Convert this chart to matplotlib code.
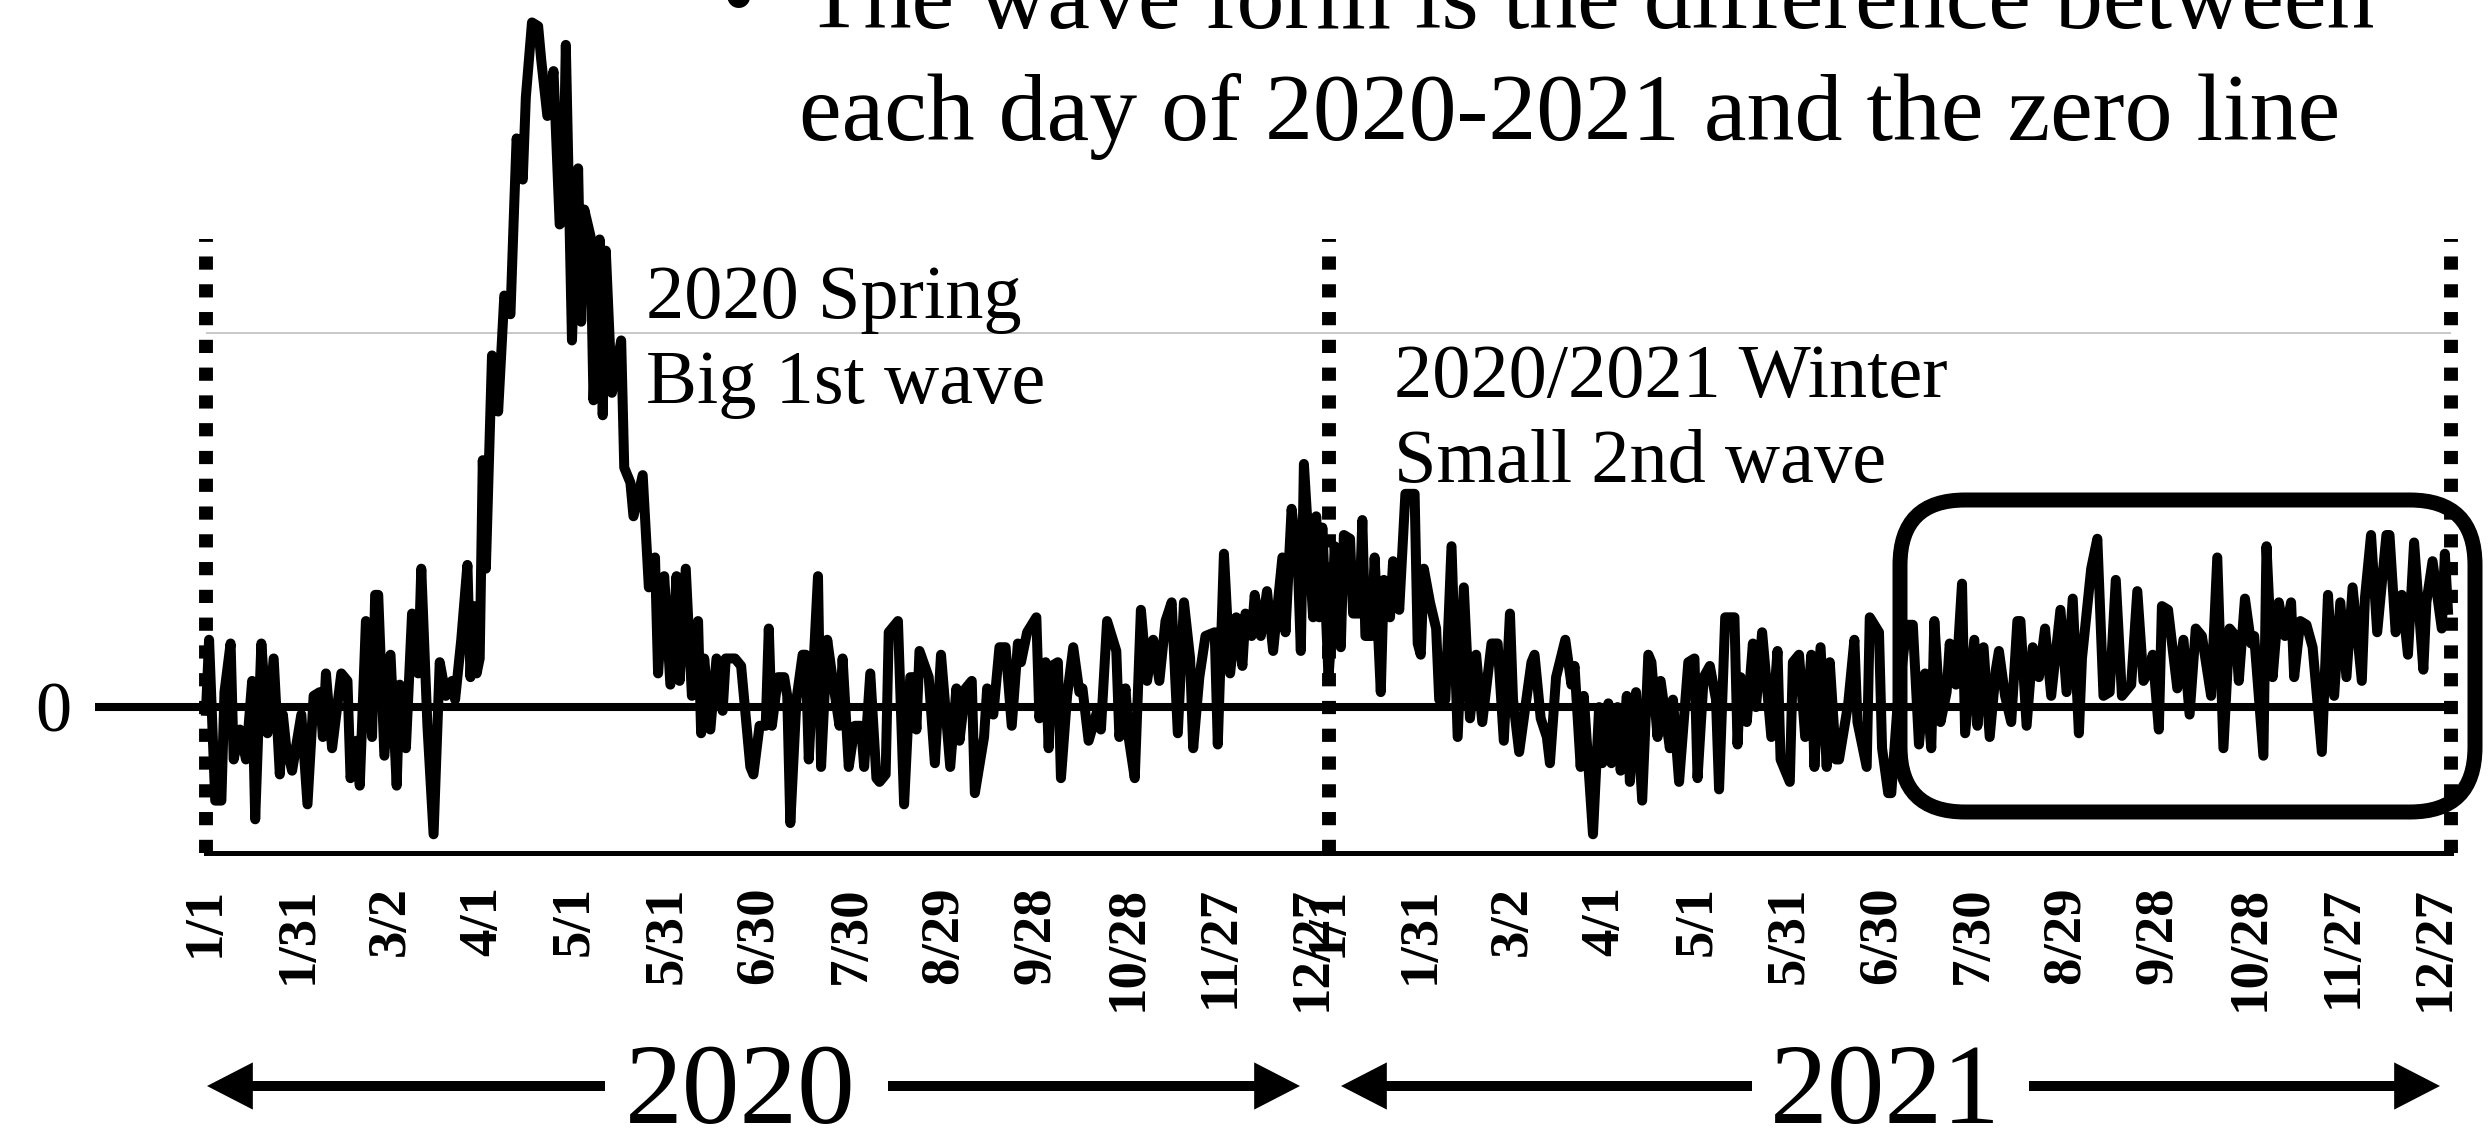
import matplotlib
matplotlib.use("Agg")
import matplotlib.pyplot as plt
from matplotlib.patches import FancyBboxPatch

# ---------------- data ----------------
# day index since 1/1/2020 (365-day years) and the wave value (gridline = 1)
days = [
    0, 1, 3, 5, 6, 8, 9, 11, 13, 15, 16, 18, 20, 22, 24, 25, 26, 28, 31, 33,
    35, 37, 38, 39, 41, 44, 46, 47, 49, 50, 52, 54, 55, 56, 58, 60, 62, 63, 65, 67,
    69, 70, 72, 74, 76, 78, 80, 81, 83, 85, 86, 87, 88, 89,
    90, 91, 93, 95, 97, 99, 100, 101, 103, 104, 106, 108, 109, 111, 113, 115, 116, 117,
    119, 121, 122, 123, 125, 126, 128, 129, 130, 132, 135, 136, 138, 139, 142, 144, 146,
    147, 149, 151, 153, 154, 156, 158, 160, 161, 162, 164, 166, 168, 169, 172, 174, 177,
    178, 180, 182, 183, 184, 186, 188, 189, 190, 192, 194, 195, 196, 199, 200, 202, 204,
    206, 207, 209, 211, 213, 214, 216, 218, 219, 221, 222, 225, 227, 229, 230, 231, 232,
    235, 237, 239, 242, 244, 245, 247, 249, 250, 253, 254, 256, 258, 260, 262, 264, 265,
    267, 270, 271, 273,
    274, 275, 277, 278, 280, 282, 284, 285, 287, 290, 291, 293, 296, 297, 299, 300, 302,
    304, 306, 308, 310, 312, 314, 316, 318, 320, 321, 323, 325, 328, 329, 331, 333, 335,
    337, 338, 340, 341, 343, 345, 347, 350, 351, 353, 355, 356, 357, 360,
    361, 362, 363, 365, 366, 367, 369, 370, 372, 373, 375, 376, 377, 379, 380, 382, 383,
    385, 386, 388, 390, 393, 394, 395, 396, 398, 400, 401, 403, 405, 407, 409, 411, 413,
    415, 418, 420, 422, 424, 425, 427, 431, 432, 434, 436, 437, 439, 442, 444, 445, 447,
    448, 451,
    453, 454, 456, 457, 459, 460, 462, 463, 465, 467, 469, 470, 472, 473, 476, 477, 479,
    482, 484, 485, 487, 489, 491, 492, 494, 497, 498, 499, 501, 503, 504, 506, 509, 511,
    512, 515, 516, 518, 520, 522, 523, 525, 527, 528, 530, 531, 534, 536, 537, 540, 541,
    544, 545, 547, 548, 550, 553, 555, 557, 559, 561, 562, 564, 566, 567, 569, 571, 572,
    575, 576, 578, 580, 582, 583, 585, 587, 589, 590, 592, 594, 596, 598, 600, 603, 605,
    607, 609, 610, 613, 615, 617, 619, 621, 623, 626, 628, 630, 632,
    633, 635, 636, 638, 641, 643, 645, 647, 649, 652, 654, 656, 658, 660, 661, 663, 665,
    666, 669, 670, 672, 674, 676, 678, 679, 681, 683, 685, 688, 690, 692, 694, 696, 698,
    701, 702, 704, 706, 709, 710, 712, 714, 716, 718, 721, 722, 724, 727, 728, 729,
]
values = [
    -0.01, 0.18, -0.25, -0.25, 0.04, 0.17, -0.14, -0.06, -0.14, 0.07, -0.30, 0.17, -0.07,
    0.13, -0.18, -0.02, -0.10, -0.17, -0.02, -0.26,
    0.03, 0.04, -0.08, 0.09, -0.11, 0.09, 0.07, -0.19, -0.09, -0.21, 0.23, -0.08, 0.30,
    0.30, -0.13, 0.14, -0.21, 0.06, -0.11, 0.25,
    0.09, 0.37, -0.05, -0.34, 0.12, 0.03, 0.07, 0.02, 0.18, 0.38, 0.08, 0.27, 0.09, 0.13,
    0.66, 0.37, 0.94, 0.79, 1.10, 1.05, 1.29, 1.52, 1.41, 1.63, 1.83, 1.82, 1.73, 1.58,
    1.70, 1.29, 1.30, 1.77,
    0.98, 1.44, 1.03, 1.33, 1.26, 0.82, 1.25, 0.78, 1.22, 0.84, 0.98, 0.64, 0.60, 0.51,
    0.62, 0.32, 0.40,
    0.09, 0.35, 0.06, 0.35, 0.07, 0.37, 0.03, 0.23, -0.07, 0.13, -0.06, 0.13, -0.01, 0.13,
    0.13, 0.11, -0.16,
    -0.18, -0.05, -0.05, 0.21, -0.05, 0.08, 0.08, 0.03, -0.31, 0.02, 0.14, 0.14, -0.14,
    0.35, -0.16, 0.18, 0.06,
    -0.05, 0.13, -0.16, -0.05, -0.05, -0.16, 0.09, -0.19, -0.20, -0.18, 0.20, 0.23, -0.26,
    0.08, 0.08, -0.06, 0.15,
    0.08, -0.15, 0.14, -0.16, 0.05, -0.09, 0.05, 0.07, -0.23, -0.08, 0.05, -0.02, 0.16,
    0.16, -0.05, 0.17, 0.12,
    0.20, 0.24, -0.03, 0.12,
    -0.11, 0.11, 0.12, -0.19, 0.03, 0.16, 0.04, 0.05, -0.09, -0.005, -0.06, 0.23, 0.15,
    -0.08, 0.05, -0.08, -0.19,
    0.26, 0.07, 0.18, 0.07, 0.23, 0.28, -0.07, 0.28, 0.13, -0.11, 0.08, 0.19, 0.20, -0.10,
    0.41, 0.09, 0.24,
    0.11, 0.25, 0.19, 0.30, 0.19, 0.31, 0.15, 0.40, 0.20, 0.53, 0.39, 0.15, 0.65, 0.24,
    0.51, 0.24, 0.48, 0.08, 0.20, 0.43, 0.16, 0.46, 0.45, 0.25, 0.25, 0.50, 0.19, 0.19,
    0.40, 0.04, 0.34,
    0.24, 0.39, 0.26, 0.57, 0.57, 0.17, 0.14, 0.37, 0.28, 0.21, 0.02, 0.02, 0.43, -0.08,
    0.32, -0.03, 0.14,
    -0.04, 0.17, 0.17, -0.09, 0.25, 0.02, -0.12, 0.12, 0.14, -0.03, -0.08, -0.15, 0.08,
    0.18, 0.06, 0.11, -0.16,
    0.03, -0.34,
    0.0, -0.15, 0.01, -0.15, 0.0, -0.17, 0.03, -0.20, 0.04, -0.25, 0.14, 0.12, -0.08, 0.07,
    -0.11, 0.02, -0.20,
    0.12, 0.13, -0.19, 0.08, 0.11, 0.02, -0.22, 0.24, 0.24, -0.10, 0.08, -0.04, 0.17, 0.0,
    0.20, -0.08, 0.15,
    -0.14, -0.20, 0.12, 0.14, -0.08, 0.14, -0.16, 0.16, -0.16, 0.12, -0.14, -0.14, 0.01,
    0.18, -0.04, -0.16, 0.24,
    0.20, -0.11, -0.23, -0.23, 0.0, 0.22, 0.22, -0.10, 0.09, -0.11, 0.23, -0.04, 0.04, 0.17,
    0.06, 0.33, -0.07,
    0.18, -0.05, 0.16, -0.08, 0.10, 0.15, 0.03, -0.04, 0.23, 0.23, -0.05, 0.16, 0.08, 0.21,
    0.03, 0.26, 0.04,
    0.29, -0.07, 0.13, 0.37, 0.45, 0.03, 0.04, 0.34, 0.03, 0.06, 0.31, 0.07, 0.10,
    0.14, -0.06, 0.27, 0.26, 0.05, 0.18, -0.02, 0.21, 0.19, 0.03, 0.40, -0.11, 0.21, 0.19,
    0.07, 0.29, 0.17,
    0.19, -0.13, 0.43, 0.08, 0.28, 0.19, 0.28, 0.08, 0.23, 0.22, 0.16, -0.12, 0.30, 0.03,
    0.28, 0.08, 0.32,
    0.07, 0.29, 0.46, 0.20, 0.46, 0.46, 0.20, 0.30, 0.14, 0.44, 0.10, 0.28, 0.39, 0.21,
    0.41, 0.26,
]

tick_labels = ["1/1", "1/31", "3/2", "4/1", "5/1", "5/31", "6/30", "7/30",
               "8/29", "9/28", "10/28", "11/27", "12/27"]
years = ["2020", "2021"]
year_len = 365
year_bounds = [0, 365, 730]

title_lines = ["The wave form is the difference between",
               "each day of 2020-2021 and the zero line"]
note_spring = ["2020 Spring", "Big 1st wave"]
note_winter = ["2020/2021 Winter", "Small 2nd wave"]

# ---------------- figure ----------------
SERIF = ["Liberation Serif", "DejaVu Serif"]
W, H = 2490, 1129
fig = plt.figure(figsize=(W / 100, H / 100), dpi=100)


def fx(px):
    return px / W


def fy(py):
    return 1 - py / H


X0, X1, YB = 206, 2451, 853
ax = fig.add_axes([fx(X0), fy(YB), (X1 - X0) / W, YB / H])
ax.set_xlim(0, 730)
ax.set_ylim(-0.390, 1.890)

ax.axhline(1.0, color="#c4c4c4", lw=1.3, zorder=1)
ax.plot([-36, 730], [0, 0], color="black", lw=5.8, solid_capstyle="butt",
        clip_on=False, zorder=2)
for d in year_bounds:
    ax.plot([d, d], [-0.39, 1.25], color="black", lw=10,
            linestyle=(0, (0.95, 1.05)), dash_capstyle="butt",
            clip_on=False, zorder=3)
ax.plot(days, values, color="black", lw=7.2, solid_joinstyle="round",
        clip_on=False, zorder=4)

for s in ["top", "left", "right"]:
    ax.spines[s].set_visible(False)
ax.spines["bottom"].set_linewidth(3.6)
ax.set_yticks([])

tick_pos = []
tick_text = []
for y in range(len(years)):
    for i, lab in enumerate(tick_labels):
        tick_pos.append(y * year_len + 30 * i)
        tick_text.append(lab)
ax.set_xticks(tick_pos)
ax.set_xticklabels(tick_text, rotation=90, fontsize=39.5, fontweight="bold",
                   family=SERIF)
ax.tick_params(axis="x", length=0, pad=24)

# "0" label
fig.text(fx(53), fy(731), "0", fontsize=52, family=SERIF, ha="center",
         va="baseline")

# heading text
fig.text(fx(722), fy(28), "\u2022", fontsize=69, family=SERIF, ha="left",
         va="baseline")
fig.text(fx(805), fy(28), title_lines[0], fontsize=69, family=SERIF,
         ha="left", va="baseline")
fig.text(fx(799), fy(140), title_lines[1], fontsize=69, family=SERIF,
         ha="left", va="baseline")

# annotations
for txt, yb in zip(note_spring, [318, 403]):
    fig.text(fx(646), fy(yb), txt, fontsize=55, family=SERIF, ha="left",
             va="baseline")
for txt, yb in zip(note_winter, [397, 482]):
    fig.text(fx(1394), fy(yb), txt, fontsize=55, family=SERIF, ha="left",
             va="baseline")

# rounded highlight box
box = FancyBboxPatch((1900 / 100, (H - 812) / 100), 575 / 100, 312 / 100,
                     boxstyle="round,pad=0,rounding_size=0.65",
                     transform=fig.dpi_scale_trans, fill=False,
                     edgecolor="black", lw=10.8, zorder=10)
fig.add_artist(box)

# year arrows
arrow_y = H - 1086
year_spans = [(207, 605, 888, 1300, 740), (1341, 1752, 2029, 2440, 1885)]
aprops = dict(width=7.2, headwidth=34, headlength=33, shrink=0,
              facecolor="black", edgecolor="none")
for yr, (lt, l_end, r_start, rt, cx) in zip(years, year_spans):
    ax.annotate("", xy=(lt, arrow_y), xytext=(l_end, arrow_y),
                xycoords="figure pixels", textcoords="figure pixels",
                arrowprops=aprops, annotation_clip=False)
    ax.annotate("", xy=(rt, arrow_y), xytext=(r_start, arrow_y),
                xycoords="figure pixels", textcoords="figure pixels",
                arrowprops=aprops, annotation_clip=False)
    fig.text(fx(cx), fy(1123), yr, fontsize=83, family=SERIF, ha="center",
             va="baseline")

fig.savefig("out.png", dpi=100)
